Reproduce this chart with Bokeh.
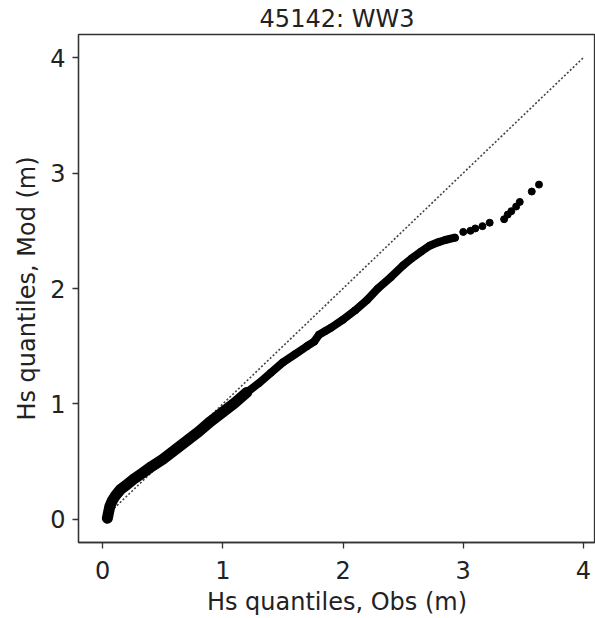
from bokeh.plotting import figure
from bokeh.models import FixedTicker
from bokeh.embed import file_html
from bokeh.resources import INLINE

# ---- data (Q-Q quantiles, metres) ----
obs_q = [0.04, 0.05, 0.06, 0.08, 0.11, 0.15, 0.20, 0.26, 0.33, 0.41, 0.50,
         0.60, 0.70, 0.80, 0.90, 1.00, 1.10, 1.20, 1.30, 1.40, 1.50, 1.60,
         1.70, 1.76, 1.80, 1.85, 1.90, 2.00, 2.10, 2.20, 2.29, 2.40, 2.50,
         2.57, 2.65, 2.72, 2.79, 2.85, 2.93, 3.00, 3.06, 3.10, 3.16, 3.22,
         3.34, 3.37, 3.40, 3.44, 3.47, 3.57, 3.63]
mod_q = [0.01, 0.06, 0.11, 0.16, 0.21, 0.26, 0.30, 0.35, 0.40, 0.46, 0.52,
         0.60, 0.68, 0.76, 0.85, 0.93, 1.01, 1.10, 1.18, 1.27, 1.36, 1.43,
         1.50, 1.54, 1.60, 1.63, 1.66, 1.73, 1.81, 1.90, 2.00, 2.10, 2.20,
         2.26, 2.32, 2.37, 2.40, 2.42, 2.44, 2.49, 2.50, 2.52, 2.54, 2.57,
         2.60, 2.64, 2.67, 2.71, 2.75, 2.84, 2.90]
ref_line = [0, 4]          # 1:1 line end points
x_ticks = [0, 1, 2, 3, 4]
y_ticks = [0, 1, 2, 3, 4]
title_text = "45142: WW3"
x_label = "Hs quantiles, Obs (m)"
y_label = "Hs quantiles, Mod (m)"

FONT = "DejaVu Sans"
FS = "24px"

p = figure(width=595, height=618, output_backend="svg", toolbar_location=None,
           x_range=(-0.2, 4.1), y_range=(-0.2, 4.2),
           min_border_left=78, min_border_top=0, min_border_bottom=71,
           min_border_right=0, title=title_text)
p.title.align = "center"
p.title.offset = 5
p.title.standoff = 4
p.title.text_font = FONT
p.title.text_font_size = FS
p.title.text_font_style = "normal"
p.title.text_color = "#222222"

p.grid.visible = False
p.outline_line_color = "#333333"
p.outline_line_width = 1.3
p.background_fill_color = "white"
p.border_fill_color = "white"

for ax, ticks, lab in ((p.xaxis[0], x_ticks, x_label), (p.yaxis[0], y_ticks, y_label)):
    ax.ticker = FixedTicker(ticks=ticks)
    ax.minor_tick_line_color = None
    ax.major_tick_out = 6
    ax.major_tick_in = 0
    ax.major_tick_line_color = "#333333"
    ax.major_tick_line_width = 1.3
    ax.axis_line_color = "#333333"
    ax.axis_line_width = 1.3
    ax.major_label_text_font = FONT
    ax.major_label_text_font_size = FS
    ax.major_label_text_color = "#222222"
    ax.axis_label = lab
    ax.axis_label_text_font = FONT
    ax.axis_label_text_font_size = FS
    ax.axis_label_text_font_style = "normal"
    ax.axis_label_text_color = "#222222"

p.xaxis[0].major_label_standoff = 12
p.xaxis[0].axis_label_standoff = 6
p.yaxis[0].major_label_standoff = 7
p.yaxis[0].axis_label_standoff = 6

# 1:1 dotted reference line
p.line(ref_line, ref_line, line_color="#444444", line_width=1.6, line_dash="2 2")

# dense part drawn as a band, then all quantile markers
n_dense = sum(1 for v in obs_q if v <= 2.95)
n_low = sum(1 for v in obs_q if v <= 1.2)
p.line(obs_q[:n_low], mod_q[:n_low], line_color="black", line_width=11,
       line_cap="round", line_join="round")
p.line(obs_q[:n_dense], mod_q[:n_dense], line_color="black", line_width=8,
       line_cap="round", line_join="round")
p.scatter(obs_q, mod_q, size=7, color="black")

open("out.html", "w").write(file_html(p, INLINE))
